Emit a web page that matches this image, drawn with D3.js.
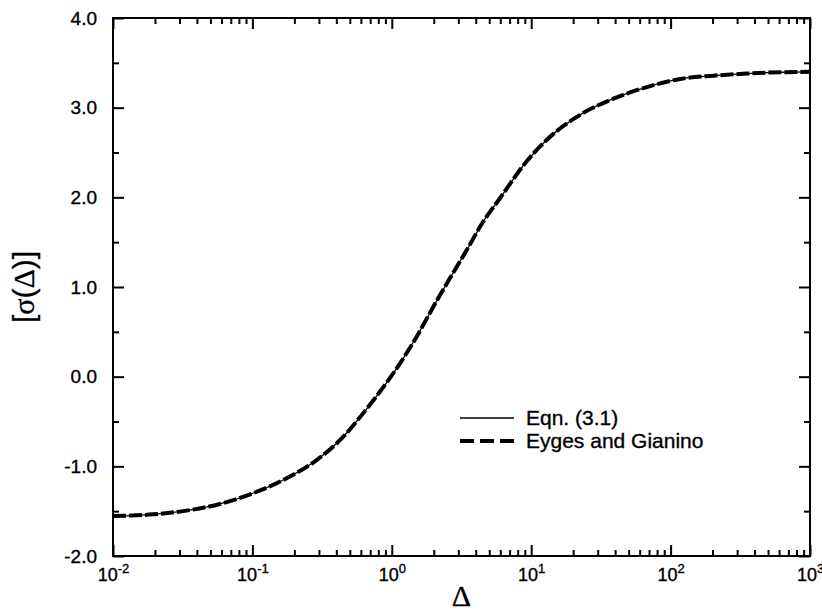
<!DOCTYPE html>
<html lang="en">
<head>
<meta charset="UTF-8">
<title>sigma(Delta)</title>
<script src="https://d3js.org/d3.v7.min.js"></script>
<style>
    body { margin: 0; background: #fff; }
    svg text { font-family: "Liberation Sans", Arial, Helvetica, sans-serif; fill: #000; stroke: #000; stroke-width: 0.35; }
    .tick line { stroke: #000; stroke-width: 2; }
    .serif { font-family: "Liberation Serif", "Times New Roman", serif; }
</style>
</head>
<body>
<svg width="822" height="612"></svg>
<script>
    // values
    var deltas = [0.01, 0.0194, 0.0336, 0.0585, 0.101, 0.176, 0.289, 0.449, 0.575, 0.757,
        1.146, 1.507, 1.986, 2.61, 3.44, 4.53, 5.97, 9.04, 12.9, 22.4, 38.9, 67.6,
        117, 204, 351, 610, 1000];
    var eqnValues = [-1.555, -1.535, -1.494, -1.42, -1.30, -1.133, -0.93, -0.67, -0.475, -0.241,
        0.149, 0.446, 0.78, 1.097, 1.41, 1.73, 1.99, 2.38, 2.64, 2.92, 3.10, 3.23,
        3.32, 3.357, 3.38, 3.395, 3.40];
    var eygesValues = [-1.555, -1.535, -1.494, -1.42, -1.30, -1.133, -0.93, -0.67, -0.475, -0.241,
        0.149, 0.446, 0.78, 1.097, 1.41, 1.73, 1.99, 2.38, 2.64, 2.92, 3.10, 3.23,
        3.32, 3.357, 3.38, 3.395, 3.40];
    var decades = [0.01, 0.1, 1, 10, 100, 1000];
    var yMajor = [-2, -1, 0, 1, 2, 3, 4];
    var yMinor = [-1.5, -0.5, 0.5, 1.5, 2.5, 3.5];
    var legendNames = ["Eqn. (3.1)", "Eyges and Gianino"];

    var svg = d3.select("svg"),
        pLeft = 113, pRight = 810, pTop = 18, pBottom = 556;

    var x = d3.scaleLog().domain([1e-2, 1e3]).range([pLeft, pRight]),
        y = d3.scaleLinear().domain([-2, 4]).range([pBottom, pTop]);

    var xMinor = [];
    decades.slice(0, -1).forEach(function(d) {
        for (var k = 2; k < 10; k++) xMinor.push(d * k);
    });

    function noDomain(g) { g.select(".domain").remove(); }

    // bottom axis with labels 10^n
    var bottomAxis = svg.append("g")
        .attr("transform", "translate(0," + pBottom + ")")
        .call(d3.axisBottom(x).tickValues(decades).tickSize(-11).tickPadding(12).tickFormat(function() { return ""; }))
        .call(noDomain)
        .attr("font-size", 18);
    bottomAxis.selectAll(".tick text").each(function(d) {
        var t = d3.select(this);
        t.append("tspan").text("10");
        t.append("tspan").attr("dy", -8).attr("font-size", 13).text(Math.round(Math.log10(d)));
    });
    svg.append("g")
        .attr("transform", "translate(0," + pBottom + ")")
        .call(d3.axisBottom(x).tickValues(xMinor).tickSize(-6).tickFormat(""))
        .call(noDomain);

    // top axis
    svg.append("g")
        .attr("transform", "translate(0," + pTop + ")")
        .call(d3.axisTop(x).tickValues(decades).tickSize(-11).tickFormat(""))
        .call(noDomain);
    svg.append("g")
        .attr("transform", "translate(0," + pTop + ")")
        .call(d3.axisTop(x).tickValues(xMinor).tickSize(-6).tickFormat(""))
        .call(noDomain);

    // left axis
    svg.append("g")
        .attr("transform", "translate(" + pLeft + ",0)")
        .call(d3.axisLeft(y).tickValues(yMajor).tickSize(-11).tickPadding(16)
            .tickFormat(function(d) { return d.toFixed(1); }))
        .call(noDomain)
        .attr("font-size", 19);
    svg.append("g")
        .attr("transform", "translate(" + pLeft + ",0)")
        .call(d3.axisLeft(y).tickValues(yMinor).tickSize(-6).tickFormat(""))
        .call(noDomain);

    // right axis
    svg.append("g")
        .attr("transform", "translate(" + pRight + ",0)")
        .call(d3.axisRight(y).tickValues(yMajor).tickSize(-11).tickFormat(""))
        .call(noDomain);
    svg.append("g")
        .attr("transform", "translate(" + pRight + ",0)")
        .call(d3.axisRight(y).tickValues(yMinor).tickSize(-6).tickFormat(""))
        .call(noDomain);

    // frame
    svg.append("rect")
        .attr("x", pLeft).attr("y", pTop)
        .attr("width", pRight - pLeft).attr("height", pBottom - pTop)
        .attr("fill", "none").attr("stroke", "#000").attr("stroke-width", 2);

    var line = d3.line()
        .x(function(d) { return x(d[0]); })
        .y(function(d) { return y(d[1]); })
        .curve(d3.curveMonotoneX);

    svg.append("path")
        .datum(d3.zip(deltas, eqnValues))
        .attr("d", line)
        .attr("fill", "none").attr("stroke", "#000").attr("stroke-width", 1.3);

    svg.append("path")
        .datum(d3.zip(deltas, eygesValues))
        .attr("d", line)
        .attr("fill", "none").attr("stroke", "#000").attr("stroke-width", 4)
        .attr("stroke-dasharray", "13,3");

    // legend
    var legend = svg.append("g").attr("transform", "translate(460,418)");
    legend.append("line")
        .attr("x1", 0).attr("x2", 54).attr("y1", 0).attr("y2", 0)
        .attr("stroke", "#000").attr("stroke-width", 1.3);
    legend.append("line")
        .attr("x1", 0).attr("x2", 54).attr("y1", 23).attr("y2", 23)
        .attr("stroke", "#000").attr("stroke-width", 4).attr("stroke-dasharray", "14,6");
    legend.selectAll(".lab")
        .data(legendNames)
        .enter().append("text")
        .attr("class", "lab")
        .attr("x", 66)
        .attr("y", function(d, i) { return i * 23; })
        .attr("dy", "0.35em")
        .attr("font-size", 21)
        .text(function(d) { return d; });

    // axis titles
    svg.append("text")
        .attr("class", "serif")
        .attr("x", (pLeft + pRight) / 2)
        .attr("y", 606)
        .attr("text-anchor", "middle")
        .attr("font-size", 30)
        .text("Δ");

    var yTitle = svg.append("text")
        .attr("transform", "translate(34," + (pTop + pBottom) / 2 + ") rotate(-90)")
        .attr("text-anchor", "middle")
        .attr("font-size", 30);
    yTitle.append("tspan").text("[");
    yTitle.append("tspan").attr("class", "serif").text("σ");
    yTitle.append("tspan").text("(");
    yTitle.append("tspan").attr("class", "serif").text("Δ");
    yTitle.append("tspan").text(")]");
</script>
</body>
</html>
